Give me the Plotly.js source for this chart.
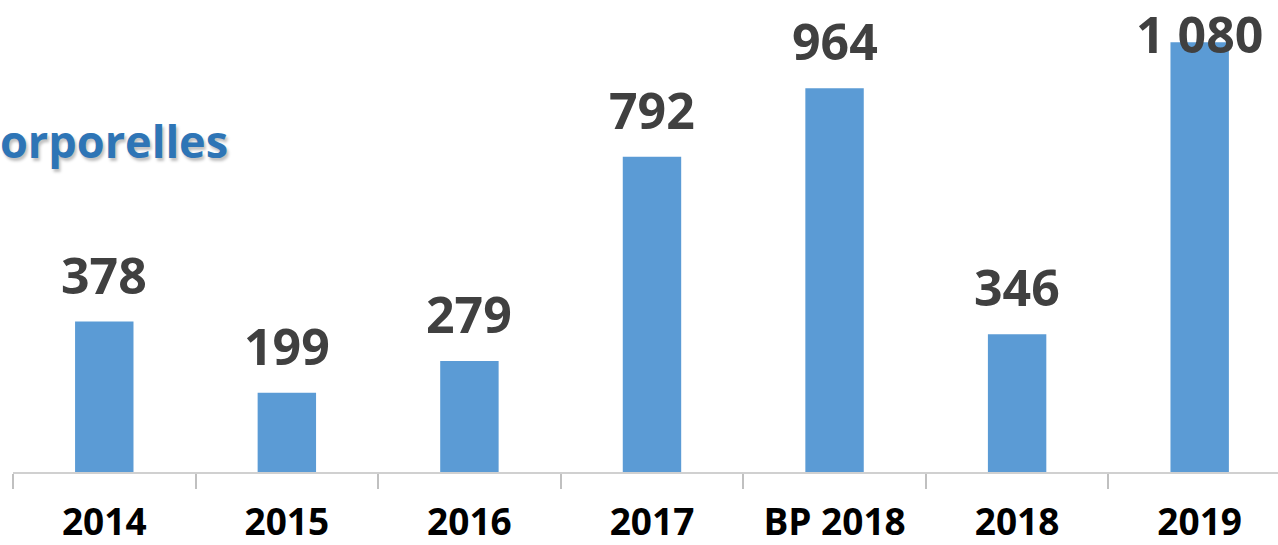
<!DOCTYPE html>
<html>
<head>
<meta charset="utf-8">
<script src="https://cdn.plot.ly/plotly-3.0.1.min.js"></script>
<style>
  html, body { margin: 0; padding: 0; background: #ffffff; }
  #chart { width: 1278px; height: 545px; }
</style>
</head>
<body>
<div id="chart"></div>
<script>
// ---- Data ----
const categories = ["2014", "2015", "2016", "2017", "BP 2018", "2018", "2019"];
const values = [378, 199, 279, 792, 964, 346, 1080];
const titleText = "orporelles";

// ---- Helpers ----
function fmt(v) {
  return String(v).replace(/\B(?=(\d{3})+(?!\d))/g, " ");
}

const yMax = 1186;
const labelFont = { family: "Open Sans, sans-serif", size: 50, color: "#404040", weight: 700 };

const annotations = categories.map((c, i) => {
  const overflow = values[i] > yMax * 0.9;
  if (overflow) {
    return {
      x: i, xref: "x", y: 1, yref: "paper", yanchor: "top",
      text: "<b>" + fmt(values[i]) + "</b>", showarrow: false,
      font: labelFont, yshift: 2
    };
  }
  return {
    x: i, xref: "x", y: values[i], yref: "y", yanchor: "middle",
    text: "<b>" + fmt(values[i]) + "</b>", showarrow: false,
    font: labelFont, yshift: 47
  };
});

annotations.push({
  xref: "paper", yref: "paper", x: 0, y: 1, xanchor: "left", yanchor: "middle",
  xshift: -15, yshift: -140,
  text: "<b>" + titleText + "</b>", showarrow: false,
  font: { family: "Open Sans, sans-serif", size: 45, color: "#2E75B6", weight: 700,
          shadow: "2px 3px 3px rgba(0,0,0,0.25)" }
});

const trace = {
  type: "bar",
  x: categories,
  y: values,
  marker: { color: "#5B9BD5" },
  hoverinfo: "skip"
};

const layout = {
  width: 1278,
  height: 545,
  margin: { l: 13, r: 0, t: 0, b: 73 },
  paper_bgcolor: "#ffffff",
  plot_bgcolor: "#ffffff",
  showlegend: false,
  bargap: 0.68,
  xaxis: {
    type: "category",
    range: [-0.5, 6.429],
    showline: true,
    linecolor: "#D0D0D0",
    linewidth: 2,
    ticks: "outside",
    tickson: "boundaries",
    ticklen: 15,
    tickwidth: 2,
    tickcolor: "#C0C0C0",
    showgrid: false,
    zeroline: false,
    ticklabelstandoff: 17,
    tickfont: { family: "Open Sans, sans-serif", size: 37, color: "#000000", weight: 700 },
    fixedrange: true
  },
  yaxis: {
    range: [0, yMax],
    visible: false,
    showgrid: false,
    zeroline: false,
    fixedrange: true
  },
  annotations: annotations
};

Plotly.newPlot("chart", [trace], layout, { displayModeBar: false, staticPlot: true });
</script>
</body>
</html>
